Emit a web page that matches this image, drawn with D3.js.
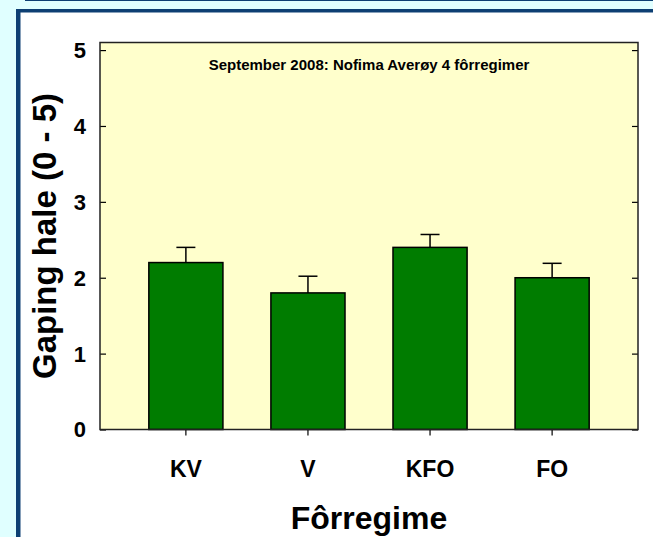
<!DOCTYPE html>
<html>
<head>
<meta charset="utf-8">
<script src="https://cdn.jsdelivr.net/npm/d3@7"></script>
<style>
  html, body { margin: 0; padding: 0; background: #e0ffff; }
  svg { display: block; }
  text { font-family: Arial, "Liberation Sans", Helvetica, sans-serif; font-weight: bold; fill: #000; }
</style>
</head>
<body>
<script>
// Feeding regimes and tail gaping scores (mean with standard error)
const categories = ["KV", "V", "KFO", "FO"];
const means = [2.2, 1.8, 2.4, 2.0];
const errors = [0.2, 0.22, 0.17, 0.19];
const yTicks = [0, 1, 2, 3, 4, 5];
const chartTitle = "September 2008: Nofima Averøy 4 fôrregimer";
const xTitle = "Fôrregime";
const yTitle = "Gaping hale (0 - 5)";

const W = 653, H = 537;
const plot = { left: 100, right: 638, top: 42.5, bottom: 429.5 };

const svg = d3.select("body").append("svg")
  .attr("width", W).attr("height", H);

// Slide frame
svg.append("rect").attr("x", 0).attr("y", 0).attr("width", W).attr("height", H).attr("fill", "#e0ffff");
svg.append("rect").attr("x", 25).attr("y", 0).attr("width", W - 25).attr("height", 1).attr("fill", "#0d3f73");
svg.append("rect").attr("x", 16).attr("y", 9).attr("width", W - 16).attr("height", H - 9).attr("fill", "#0d3f73");
svg.append("rect").attr("x", 20.5).attr("y", 12.5).attr("width", W - 20.5).attr("height", H - 12.5).attr("fill", "#ffffff");

const x = d3.scaleBand()
  .domain(categories)
  .range([plot.left, plot.right])
  .paddingInner(0.393)
  .paddingOuter(0.4);

const y = d3.scaleLinear()
  .domain([0, 5.1])
  .range([plot.bottom, plot.top]);

// Plot background
svg.append("rect")
  .attr("x", plot.left).attr("y", plot.top)
  .attr("width", plot.right - plot.left).attr("height", plot.bottom - plot.top)
  .attr("fill", "#ffffcc");

// Bars
svg.append("g").selectAll("rect")
  .data(categories)
  .join("rect")
  .attr("x", d => x(d))
  .attr("y", (d, i) => y(means[i]))
  .attr("width", x.bandwidth())
  .attr("height", (d, i) => y(0) - y(means[i]))
  .attr("fill", "#007c00")
  .attr("stroke", "#000")
  .attr("stroke-width", 1.5);

// Upper error bars
const eb = svg.append("g").attr("stroke", "#000").attr("stroke-width", 1.5);
categories.forEach((c, i) => {
  const cx = x(c) + x.bandwidth() / 2;
  eb.append("line")
    .attr("x1", cx).attr("x2", cx)
    .attr("y1", y(means[i])).attr("y2", y(means[i] + errors[i]));
  eb.append("line")
    .attr("x1", cx - 9.5).attr("x2", cx + 9.5)
    .attr("y1", y(means[i] + errors[i])).attr("y2", y(means[i] + errors[i]));
});

// Left axis: inward ticks
const yLeft = svg.append("g")
  .attr("transform", `translate(${plot.left},0)`)
  .call(d3.axisRight(y).tickValues(yTicks).tickSize(6).tickFormat(""));
yLeft.select(".domain").remove();
yLeft.selectAll("line").attr("stroke", "#000").attr("stroke-width", 1.2);

// Right axis: inward ticks
const yRight = svg.append("g")
  .attr("transform", `translate(${plot.right},0)`)
  .call(d3.axisLeft(y).tickValues(yTicks).tickSize(6).tickFormat(""));
yRight.select(".domain").remove();
yRight.selectAll("line").attr("stroke", "#000").attr("stroke-width", 1.2);

// Y tick labels
svg.append("g").selectAll("text")
  .data(yTicks)
  .join("text")
  .attr("x", 86)
  .attr("y", d => y(d))
  .attr("dy", "0.36em")
  .attr("text-anchor", "end")
  .attr("font-size", 22)
  .text(d => d);

// Bottom axis: outward ticks
const xAxis = svg.append("g")
  .attr("transform", `translate(0,${plot.bottom})`)
  .call(d3.axisBottom(x).tickSize(6).tickFormat(""));
xAxis.select(".domain").remove();
xAxis.selectAll("line").attr("stroke", "#000").attr("stroke-width", 1.2);

// X tick labels
svg.append("g").selectAll("text")
  .data(categories)
  .join("text")
  .attr("x", d => x(d) + x.bandwidth() / 2)
  .attr("y", 477)
  .attr("text-anchor", "middle")
  .attr("font-size", 23)
  .text(d => d);

// Plot frame
svg.append("rect")
  .attr("x", plot.left).attr("y", plot.top)
  .attr("width", plot.right - plot.left).attr("height", plot.bottom - plot.top)
  .attr("fill", "none").attr("stroke", "#222").attr("stroke-width", 1.5);

// Titles
svg.append("text")
  .attr("x", (plot.left + plot.right) / 2)
  .attr("y", 70)
  .attr("text-anchor", "middle")
  .attr("font-size", 15)
  .text(chartTitle);

svg.append("text")
  .attr("x", (plot.left + plot.right) / 2)
  .attr("y", 529)
  .attr("text-anchor", "middle")
  .attr("font-size", 32)
  .text(xTitle);

svg.append("text")
  .attr("transform", `translate(56,${(plot.top + plot.bottom) / 2}) rotate(-90)`)
  .attr("text-anchor", "middle")
  .attr("font-size", 33)
  .text(yTitle);
</script>
</body>
</html>
